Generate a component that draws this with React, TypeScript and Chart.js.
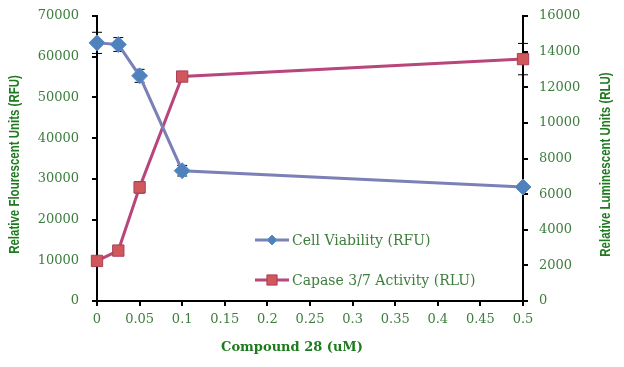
import React, { useEffect, useRef } from "react";
import { Chart, registerables } from "chart.js";

Chart.register(...registerables);

const doses = [0, 0.025, 0.05, 0.1, 0.5];
const viability = [63400, 63000, 55300, 32000, 28000];
const viabilityErr = [2600, 1700, 1600, 1300, 300];
const caspase = [2250, 2830, 6380, 12600, 13580];
const caspaseErr = [120, 180, 320, 150, 880];

const leftTicks = [0, 70000, 10000];
const rightTicks = [0, 16000, 2000];
const xTicks = [0, 0.5, 0.05];

const seriesNames = ["Cell Viability (RFU)", "Capase 3/7 Activity (RLU)"];
const xTitle = "Compound 28 (uM)";
const leftTitle = "Relative Flourescent Units (RFU)";
const rightTitle = "Relative Luminescent Units (RLU)";

const TICK_COLOR = "#3e7d3e";
const TITLE_COLOR = "#1e7a1e";
const VIA_LINE = "#7b80b6";
const VIA_FILL = "#4f81bd";
const CAS_LINE = "#b8467a";
const CAS_FILL = "#d0585c";
const CAS_BORDER = "#a8405a";

const errors = [viabilityErr, caspaseErr];

function drawMarker(ctx: CanvasRenderingContext2D, style: string, x: number, y: number, r: number, fill: string, stroke: string) {
  ctx.save();
  ctx.fillStyle = fill;
  ctx.strokeStyle = stroke;
  ctx.lineWidth = 1;
  ctx.beginPath();
  if (style === "rectRot") {
    ctx.moveTo(x, y - r);
    ctx.lineTo(x + r, y);
    ctx.lineTo(x, y + r);
    ctx.lineTo(x - r, y);
    ctx.closePath();
  } else {
    const s = r * 0.85;
    ctx.rect(x - s, y - s, 2 * s, 2 * s);
  }
  ctx.fill();
  ctx.stroke();
  ctx.restore();
}

const errorBarPlugin = {
  id: "errorBars",
  beforeDatasetsDraw(chart: any) {
    const ctx = chart.ctx;
    chart.data.datasets.forEach((ds: any, di: number) => {
      const meta = chart.getDatasetMeta(di);
      const scale = chart.scales[ds.yAxisID];
      const errs = errors[di];
      meta.data.forEach((pt: any, i: number) => {
        const v = (ds.data[i] as any).y;
        const yTop = scale.getPixelForValue(v + errs[i]);
        const yBot = scale.getPixelForValue(v - errs[i]);
        const x = pt.x;
        ctx.save();
        ctx.strokeStyle = "#000";
        ctx.lineWidth = 1;
        ctx.beginPath();
        ctx.moveTo(x, yTop);
        ctx.lineTo(x, yBot);
        ctx.moveTo(x - 5, yTop);
        ctx.lineTo(x + 5, yTop);
        ctx.moveTo(x - 5, yBot);
        ctx.lineTo(x + 5, yBot);
        ctx.stroke();
        ctx.restore();
      });
    });
  },
};

const decorPlugin = {
  id: "decor",
  afterDraw(chart: any) {
    const ctx = chart.ctx;
    const area = chart.chartArea;
    const cy = (area.top + area.bottom) / 2 + 6;
    ctx.save();
    ctx.fillStyle = TITLE_COLOR;
    ctx.textAlign = "center";
    ctx.textBaseline = "middle";
    ctx.font = "bold 14px 'Liberation Sans', Arial, sans-serif";
    // left title
    ctx.save();
    ctx.translate(15, cy);
    ctx.rotate(-Math.PI / 2);
    ctx.scale(0.82, 1);
    ctx.fillText(leftTitle, 0, 0);
    ctx.restore();
    // right title
    ctx.save();
    ctx.translate(606, cy);
    ctx.rotate(-Math.PI / 2);
    ctx.scale(0.82, 1);
    ctx.fillText(rightTitle, 0, 0);
    ctx.restore();
    // x title
    ctx.font = "bold 13px 'DejaVu Serif', serif";
    ctx.fillText(xTitle, 292, 348);

    // legend
    const items = [
      { name: seriesNames[0], y: 240, line: VIA_LINE, style: "rectRot", fill: VIA_FILL, stroke: "#5a8cc8" },
      { name: seriesNames[1], y: 280, line: CAS_LINE, style: "rect", fill: CAS_FILL, stroke: CAS_BORDER },
    ];
    items.forEach((it) => {
      ctx.strokeStyle = it.line;
      ctx.lineWidth = 3;
      ctx.beginPath();
      ctx.moveTo(255, it.y);
      ctx.lineTo(289, it.y);
      ctx.stroke();
      drawMarker(ctx, it.style, 272, it.y, it.style === "rectRot" ? 5 : 6, it.fill, it.stroke);
      ctx.fillStyle = TICK_COLOR;
      ctx.textAlign = "left";
      ctx.font = "14px 'DejaVu Serif', serif";
      ctx.fillText(it.name, 292, it.y + 1);
    });
    ctx.restore();
  },
};

export default function App() {
  const ref = useRef<HTMLCanvasElement | null>(null);
  useEffect(() => {
    document.body.style.margin = "0";
    const canvas = ref.current!;
    const tickFont = { family: "'DejaVu Serif', serif", size: 13 };
    const chart = new Chart(canvas, {
      type: "line",
      data: {
        datasets: [
          {
            label: seriesNames[0],
            data: doses.map((d, i) => ({ x: d, y: viability[i] })),
            yAxisID: "y",
            borderColor: VIA_LINE,
            borderWidth: 3,
            pointStyle: "rectRot",
            pointRadius: 8,
            pointBackgroundColor: VIA_FILL,
            pointBorderColor: "#5a8cc8",
            pointBorderWidth: 1,
            tension: 0,
            clip: false,
          },
          {
            label: seriesNames[1],
            data: doses.map((d, i) => ({ x: d, y: caspase[i] })),
            yAxisID: "y1",
            borderColor: CAS_LINE,
            borderWidth: 3,
            pointStyle: "rect",
            pointRadius: 8,
            pointBackgroundColor: CAS_FILL,
            pointBorderColor: CAS_BORDER,
            pointBorderWidth: 1,
            tension: 0,
            clip: false,
          },
        ],
      },
      options: {
        responsive: false,
        animation: false,
        devicePixelRatio: 1,
        layout: { autoPadding: false, padding: { top: 16, left: 0, right: 0, bottom: 0 } },
        plugins: { legend: { display: false }, tooltip: { enabled: false } },
        scales: {
          x: {
            type: "linear",
            min: xTicks[0],
            max: xTicks[1],
            afterFit: (s: any) => { s.height = 66; },
            afterBuildTicks: (s: any) => {
              const t = [];
              for (let v = xTicks[0]; v <= xTicks[1] + 1e-9; v += xTicks[2]) t.push({ value: +v.toFixed(2) });
              s.ticks = t;
            },
            ticks: {
              color: TICK_COLOR,
              font: tickFont,
              padding: 6,
              maxRotation: 0,
              autoSkip: false,
              callback: (v: any) => String(+(+v).toFixed(2)),
            },
            grid: { drawOnChartArea: false, drawTicks: true, tickLength: 5, color: "#000", lineWidth: 2 },
            border: { color: "#000", width: 2 },
          },
          y: {
            type: "linear",
            position: "left",
            min: leftTicks[0],
            max: leftTicks[1],
            afterFit: (s: any) => { s.width = 97; s.paddingTop = 0; s.paddingBottom = 0; },
            ticks: { stepSize: leftTicks[2], color: TICK_COLOR, font: tickFont, padding: 13, callback: (v: any) => String(v) },
            grid: { drawOnChartArea: false, drawTicks: true, tickLength: 5, color: "#000", lineWidth: 2 },
            border: { color: "#000", width: 2 },
          },
          y1: {
            type: "linear",
            position: "right",
            min: rightTicks[0],
            max: rightTicks[1],
            afterFit: (s: any) => { s.width = 101; s.paddingTop = 0; s.paddingBottom = 0; },
            ticks: { stepSize: rightTicks[2], color: TICK_COLOR, font: tickFont, padding: 11, callback: (v: any) => String(v) },
            grid: { drawOnChartArea: false, drawTicks: true, tickLength: 5, color: "#000", lineWidth: 2 },
            border: { color: "#000", width: 2 },
          },
        },
      } as any,
      plugins: [errorBarPlugin, decorPlugin],
    });
    return () => chart.destroy();
  }, []);
  return <canvas ref={ref} width={624} height={367} style={{ display: "block", width: 624, height: 367 }} />;
}
